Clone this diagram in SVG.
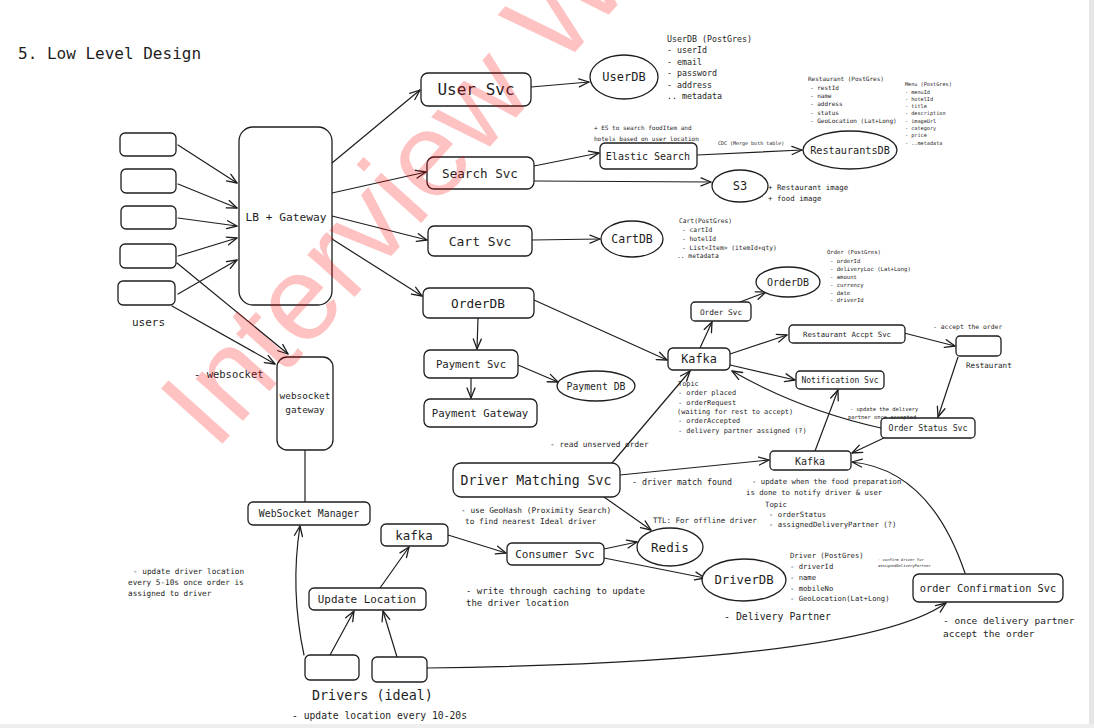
<svg xmlns="http://www.w3.org/2000/svg" width="1094" height="728" viewBox="0 0 1094 728">
<defs>
<marker id="a" viewBox="0 0 12 10" refX="11" refY="5" markerWidth="12" markerHeight="10" orient="auto" markerUnits="userSpaceOnUse"><path d="M1,1 L11,5 L1,9" fill="none" stroke="#1e1e1e" stroke-width="1.3" stroke-linecap="round" stroke-linejoin="round"/></marker>
<style>
.b{fill:#fff;stroke:#1e1e1e;stroke-width:1.3}
.t{font-family:"DejaVu Sans Mono","Liberation Mono",monospace;fill:#1e1e1e}
.c{text-anchor:middle;dominant-baseline:central}
.e path{fill:none;stroke:#1e1e1e;stroke-width:1.2;stroke-linecap:round}
.e .ar{marker-end:url(#a)}
</style>
</defs>
<rect width="1094" height="728" fill="#fff"/>
<rect x="1089" y="0" width="5" height="728" fill="#e6e6e6"/>
<rect x="0" y="724" width="1094" height="4" fill="#eeeeee"/>

<text class="t" x="18" y="59" font-size="16">5. Low Level Design</text>

<g class="e" id="connectors">
<path class="ar" d="M178,145 L237,183"/>
<path class="ar" d="M178,184 L237,208"/>
<path class="ar" d="M178,218 L237,226"/>
<path class="ar" d="M178,256 L237,238"/>
<path class="ar" d="M178,294 L237,260"/>
<path class="ar" d="M177,263 L288,354"/>
<path class="ar" d="M172,306 L275,364"/>
<path class="ar" d="M332,163 L420,90"/>
<path class="ar" d="M332,193 L426,172"/>
<path class="ar" d="M332,216 L427,240"/>
<path class="ar" d="M332,239 L422,296"/>
<path class="ar" d="M531,87 L589,82"/>
<path class="ar" d="M534,166 L599,153"/>
<path class="ar" d="M534,181 L711,182"/>
<path class="ar" d="M697,155 L802,150"/>
<path class="ar" d="M532,240 L600,239"/>
<path class="ar" d="M478,318 L477,349"/>
<path class="ar" d="M534,300 L667,360"/>
<path class="ar" d="M518,365 L558,382"/>
<path class="ar" d="M471,378 L471,398"/>
<path class="ar" d="M700,348 L712,322"/>
<path class="ar" d="M740,302 L766,292"/>
<path class="ar" d="M730,354 L787,335"/>
<path class="ar" d="M730,365 L795,380"/>
<path class="ar" d="M904,333 L955,346"/>
<path class="ar" d="M958,357 L938,417"/>
<path class="ar" d="M881,428 Q800,410 732,371"/>
<path class="ar" d="M886,437 L852,453"/>
<path class="ar" d="M815,451 L838,390"/>
<path class="ar" d="M612,463 L690,371"/>
<path class="ar" d="M620,475 L769,460"/>
<path class="ar" d="M604,497 L651,530"/>
<path class="ar" d="M448,535 L506,553"/>
<path class="ar" d="M604,549 L637,542"/>
<path class="ar" d="M604,558 L705,578"/>
<path class="ar" d="M965,573 Q930,470 852,462"/>
<path class="ar" d="M427,668 C650,665 880,650 946,603"/>
<path class="ar" d="M330,655 L354,611"/>
<path class="ar" d="M397,657 L383,611"/>
<path class="ar" d="M304,655 Q290,590 300,526"/>
<path class="ar" d="M380,588 L409,547"/>
<path d="M305,450 L305,502"/>
</g>

<g id="users">
<rect class="b" x="120" y="133" width="56" height="23" rx="5"/>
<rect class="b" x="121" y="169" width="55" height="24" rx="5"/>
<rect class="b" x="121" y="206" width="55" height="23" rx="5"/>
<rect class="b" x="120" y="244" width="56" height="24" rx="5"/>
<rect class="b" x="118" y="281" width="57" height="24" rx="5"/>
<text class="t" x="132" y="326" font-size="11">users</text>
</g>
<g id="lb"><rect class="b" x="239" y="127" width="93" height="178" rx="14"/><text class="t c" x="286" y="217" font-size="11.2">LB + Gateway</text></g>
<g id="wsgw"><rect class="b" x="277" y="357" width="56" height="93" rx="10"/><text class="t c" x="305" y="395" font-size="9.4">websocket</text><text class="t c" x="305" y="409" font-size="9.4">gateway</text></g>
<text class="t" x="194" y="378" font-size="10.5">- websocket</text>

<g id="usersvc"><rect class="b" x="421" y="73" width="110" height="33" rx="7"/><text class="t c" x="476" y="89" font-size="16">User Svc</text></g>
<g id="userdb"><ellipse class="b" cx="624" cy="77" rx="34" ry="22"/><text class="t c" x="624" y="77" font-size="12">UserDB</text></g>
<g id="userdb-note" class="t" font-size="8.3">
<text x="667" y="42">UserDB (PostGres)</text><text x="667" y="53">- userId</text><text x="667" y="65">- email</text><text x="667" y="76">- password</text><text x="667" y="88">- address</text><text x="667" y="99">.. metadata</text>
</g>

<g id="searchsvc"><rect class="b" x="427" y="157" width="107" height="32" rx="7"/><text class="t c" x="480" y="173" font-size="12.6">Search Svc</text></g>
<g id="es"><rect class="b" x="600" y="143" width="97" height="26" rx="5"/><text class="t c" x="648" y="156" font-size="10">Elastic Search</text></g>
<g class="t" font-size="6"><text x="594" y="130">+ ES to search foodItem and</text><text x="594" y="141">hotels based on user location</text></g>
<text class="t" x="718" y="145" font-size="5">CDC (Merge both table)</text>
<g id="restdb"><ellipse class="b" cx="850" cy="150" rx="47" ry="19"/><text class="t c" x="850" y="150" font-size="10.2">RestaurantsDB</text></g>
<g class="t" font-size="6"><text x="808" y="81">Restaurant (PostGres)</text><text x="810" y="90">- restId</text><text x="810" y="98">- name</text><text x="810" y="106">- address</text><text x="810" y="115">- status</text><text x="810" y="123">- GeoLocation (Lat+Long)</text></g>
<g class="t" font-size="5.2"><text x="905" y="86">Menu (PostGres)</text><text x="905" y="94">- menuId</text><text x="905" y="101">- hotelId</text><text x="905" y="108">- title</text><text x="905" y="115">- description</text><text x="905" y="123">- imageUrl</text><text x="905" y="130">- category</text><text x="905" y="137">- price</text><text x="905" y="145">- ..metadata</text></g>
<g id="s3"><ellipse class="b" cx="740" cy="186" rx="28" ry="16"/><text class="t c" x="740" y="186" font-size="12">S3</text></g>
<g class="t" font-size="7.4"><text x="768" y="190">+ Restaurant image</text><text x="768" y="201">+ food image</text></g>

<g id="cartsvc"><rect class="b" x="428" y="226" width="104" height="30" rx="6"/><text class="t c" x="480" y="241" font-size="13">Cart Svc</text></g>
<g id="cartdb"><ellipse class="b" cx="632" cy="239" rx="31" ry="18"/><text class="t c" x="632" y="239" font-size="11.5">CartDB</text></g>
<g class="t" font-size="6.3"><text x="679" y="223">Cart(PostGres)</text><text x="682" y="232">- cartId</text><text x="682" y="241">- hotelId</text><text x="682" y="250">- List&lt;Item&gt; (itemId+qty)</text><text x="677" y="258">.. metadata</text></g>

<g id="orderdbsvc"><rect class="b" x="423" y="288" width="111" height="30" rx="6"/><text class="t c" x="478" y="303" font-size="12.8">OrderDB</text></g>
<g id="ordersvc"><rect class="b" x="691" y="302" width="60" height="19" rx="4"/><text class="t c" x="721" y="312" font-size="7.8">Order Svc</text></g>
<g id="orderdb"><ellipse class="b" cx="788" cy="282" rx="32" ry="15"/><text class="t c" x="788" y="282" font-size="10">OrderDB</text></g>
<g class="t" font-size="5.6"><text x="827" y="254">Order (PostGres)</text><text x="830" y="263">- orderId</text><text x="830" y="271">- deliveryLoc (Lat+Long)</text><text x="830" y="279">- amount</text><text x="830" y="287">- currency</text><text x="830" y="295">- date</text><text x="830" y="302">- driverId</text></g>

<g id="kafka1"><rect class="b" x="668" y="348" width="62" height="22" rx="5"/><text class="t c" x="699" y="359" font-size="11.8">Kafka</text></g>
<g class="t" font-size="6.9"><text x="678" y="386">Topic</text><text x="678" y="395">- order placed</text><text x="678" y="405">- orderRequest</text><text x="677" y="414">(waiting for rest to accept)</text><text x="678" y="423">- orderAccepted</text><text x="678" y="433">- delivery partner assigned (?)</text></g>

<g id="paysvc"><rect class="b" x="424" y="350" width="94" height="28" rx="6"/><text class="t c" x="471" y="364" font-size="10.6">Payment Svc</text></g>
<g id="paydb"><ellipse class="b" cx="596" cy="386" rx="39" ry="15"/><text class="t c" x="596" y="386" font-size="9.8">Payment DB</text></g>
<g id="paygw"><rect class="b" x="424" y="399" width="113" height="28" rx="6"/><text class="t c" x="480" y="413" font-size="10.7">Payment Gateway</text></g>

<g id="raccept"><rect class="b" x="789" y="325" width="116" height="18" rx="4"/><text class="t c" x="847" y="334" font-size="7.3">Restaurant Accpt Svc</text></g>
<g id="restaurant"><rect class="b" x="956" y="336" width="45" height="20" rx="4"/><text class="t" x="966" y="368" font-size="7.6">Restaurant</text></g>
<text class="t" x="933" y="329" font-size="6.4">- accept the order</text>
<g id="notif"><rect class="b" x="796" y="371" width="88" height="18" rx="4"/><text class="t c" x="840" y="380" font-size="8">Notification Svc</text></g>
<g id="ostatus"><rect class="b" x="881" y="418" width="94" height="20" rx="4"/><text class="t c" x="928" y="428" font-size="8.2">Order Status Svc</text></g>
<g class="t" font-size="5.4"><text x="850" y="411">- update the delivery</text><text x="848" y="419">partner once accepted</text></g>

<g id="kafka2"><rect class="b" x="770" y="451" width="81" height="19" rx="4"/><text class="t c" x="810" y="461" font-size="10">Kafka</text></g>
<g class="t" font-size="7.3"><text x="752" y="484">- update when the food preparation</text><text x="746" y="495">is done to notify driver &amp; user</text><text x="765" y="507">Topic</text><text x="769" y="517">- orderStatus</text><text x="769" y="527">- assignedDeliveryPartner (?)</text></g>

<g id="dms"><rect class="b" x="453" y="463" width="167" height="34" rx="8"/><text class="t c" x="536" y="480" font-size="13.2">Driver Matching Svc</text></g>
<text class="t" x="550" y="447" font-size="7.8">- read unserved order</text>
<text class="t" x="632" y="485" font-size="8.3">- driver match found</text>
<g class="t" font-size="7.8"><text x="461" y="513">- use GeoHash (Proximity Search)</text><text x="465" y="524">to find nearest Ideal driver</text></g>
<text class="t" x="653" y="523" font-size="7.5">TTL: For offline driver</text>
<g id="redis"><ellipse class="b" cx="670" cy="547" rx="33" ry="19"/><text class="t c" x="670" y="547" font-size="12.6">Redis</text></g>
<g id="consumer"><rect class="b" x="507" y="543" width="97" height="22" rx="5"/><text class="t c" x="555" y="554" font-size="11">Consumer Svc</text></g>
<g class="t" font-size="9"><text x="466" y="594">- write through caching to update</text><text x="466" y="606">the driver location</text></g>
<g id="driverdb"><ellipse class="b" cx="744" cy="580" rx="42" ry="21"/><text class="t c" x="744" y="580" font-size="12.3">DriverDB</text></g>
<text class="t" x="724" y="620" font-size="9.9">- Delivery Partner</text>
<g class="t" font-size="7.2"><text x="790" y="558">Driver (PostGres)</text><text x="790" y="569">- driverId</text><text x="790" y="580">- name</text><text x="790" y="591">- mobileNo</text><text x="790" y="601">- GeoLocation(Lat+Long)</text></g>
<g class="t" font-size="3.8"><text x="878" y="561">- confirm driver for</text><text x="878" y="567">assignedDeliveryPartner</text></g>
<g id="oconf"><rect class="b" x="913" y="574" width="150" height="28" rx="6"/><text class="t c" x="988" y="588" font-size="10.3">order Confirmation Svc</text></g>
<g class="t" font-size="9.5"><text x="943" y="624">- once delivery partner</text><text x="943" y="637">accept the order</text></g>

<g id="kafka3"><rect class="b" x="381" y="524" width="67" height="22" rx="5"/><text class="t c" x="414" y="535" font-size="12.4">kafka</text></g>
<g id="wsmgr"><rect class="b" x="248" y="502" width="122" height="23" rx="5"/><text class="t c" x="309" y="513" font-size="9.8">WebSocket Manager</text></g>
<g id="updloc"><rect class="b" x="309" y="588" width="117" height="22" rx="5"/><text class="t c" x="367" y="599" font-size="10.9">Update Location</text></g>
<g id="drivers">
<rect class="b" x="305" y="655" width="54" height="25" rx="5"/>
<rect class="b" x="372" y="657" width="55" height="25" rx="5"/>
<text class="t" x="312" y="700" font-size="13.4">Drivers (ideal)</text>
</g>
<text class="t" x="292" y="719" font-size="9.7">- update location every 10-20s</text>
<g class="t" font-size="7.7"><text x="133" y="574">- update driver location</text><text x="128" y="585">every 5-10s once order is</text><text x="128" y="596">assigned to driver</text></g>

<text x="215" y="452" font-family="Liberation Sans, sans-serif" font-size="120" fill="#ff0000" fill-opacity="0.24" transform="rotate(-48 215 452)">Interview W</text>
</svg>
